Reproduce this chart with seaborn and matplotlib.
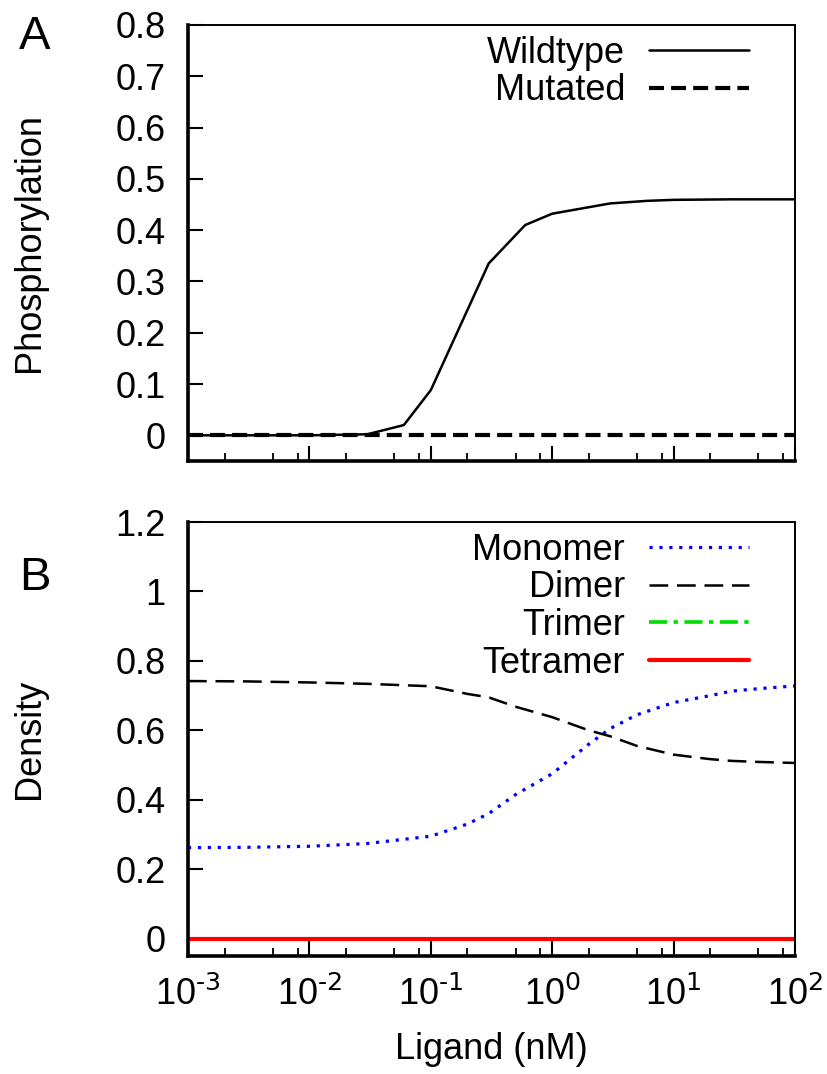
# Ligand response: phosphorylation (A) and oligomer densities (B)

import numpy as np
import matplotlib
matplotlib.use("Agg")
import matplotlib.pyplot as plt
import matplotlib.ticker as mticker
import seaborn as sns

sns.set_style("white")
plt.rcParams['font.family'] = ['Liberation Sans', 'DejaVu Sans']
plt.rcParams['mathtext.default'] = 'regular'
plt.rcParams['axes.unicode_minus'] = False
plt.rcParams['text.color'] = 'black'
plt.rcParams['axes.labelcolor'] = 'black'
plt.rcParams['xtick.color'] = 'black'
plt.rcParams['ytick.color'] = 'black'

# Panel A data
ligand_a = [0.001, 0.003, 0.006, 0.01, 0.03, 0.06, 0.1, 0.3, 0.6, 1, 3, 6, 10, 30, 60, 100]
wildtype = [0, 0, 0, 0, 0.002, 0.02, 0.088, 0.335, 0.41, 0.432, 0.452, 0.457, 0.459, 0.46, 0.46, 0.46]
mutated = [0] * len(ligand_a)

# Panel B data
ligand_b = [0.001, 0.003, 0.01, 0.03, 0.1, 0.2, 0.3, 0.5, 1, 2, 3, 5, 10, 20, 30, 50, 100]
monomer = [0.262, 0.263, 0.266, 0.274, 0.295, 0.33, 0.36, 0.415, 0.475, 0.56, 0.605, 0.645,
           0.68, 0.70, 0.713, 0.72, 0.728]
dimer = [0.742, 0.741, 0.738, 0.734, 0.727, 0.705, 0.695, 0.668, 0.638, 0.60, 0.583, 0.555,
         0.53, 0.517, 0.512, 0.509, 0.506]
trimer = [0] * len(ligand_b)
tetramer = [0] * len(ligand_b)

FS = 26


def pow10(v, pos):
    # gnuplot-like "10^-3" with a short hyphen in the exponent
    e = int(round(np.log10(v)))
    return r'10$^{\text{%d}}$' % e


fig = plt.figure(figsize=(8.27, 10.74), dpi=100)
axA = fig.add_axes([0.2273, 0.5708, 0.734, 0.406])
axB = fig.add_axes([0.2273, 0.1099, 0.734, 0.404])

for ax in (axA, axB):
    ax.set_xscale('log')

# Panel A
sns.lineplot(x=ligand_a, y=wildtype, ax=axA, color='black', lw=1.8, label='Wildtype')
sns.lineplot(x=ligand_a, y=mutated, ax=axA, color='black', lw=3.0,
             linestyle=(0, (3.6, 1.7)), label='Mutated')
axA.set_ylim(-0.05, 0.8)
axA.set_yticks(np.arange(0, 0.81, 0.1))
axA.yaxis.set_major_formatter(mticker.FuncFormatter(lambda v, p: '0' if abs(v) < 1e-9 else f'{v:.1f}'))
axA.set_ylabel('Phosphorylation', fontsize=FS)

# Panel B
sns.lineplot(x=ligand_b, y=monomer, ax=axB, color='#0000ff', lw=2.3,
             linestyle=(0, (1, 2.1)), label='Monomer')
sns.lineplot(x=ligand_b, y=dimer, ax=axB, color='black', lw=1.8,
             linestyle=(0, (7.5, 3.5)), label='Dimer')
sns.lineplot(x=ligand_b, y=trimer, ax=axB, color='#00dd00', lw=2.6,
             linestyle=(0, (5, 1.8, 1.2, 1.8)), label='Trimer')
sns.lineplot(x=ligand_b, y=tetramer, ax=axB, color='#ff0000', lw=3.0, label='Tetramer')
axB.set_ylim(-0.05, 1.2)
axB.set_yticks([0, 0.2, 0.4, 0.6, 0.8, 1.0, 1.2])
axB.yaxis.set_major_formatter(mticker.FuncFormatter(lambda v, p: f'{v:g}'))
axB.set_ylabel('Density', fontsize=FS)
axB.set_xlabel('Ligand (nM)', fontsize=FS)
axB.xaxis.set_label_coords(0.5, -0.175)

for ax in (axA, axB):
    ax.set_xlim(1e-3, 1e2)
    ax.xaxis.set_major_locator(mticker.LogLocator(base=10, numticks=10))
    ax.xaxis.set_major_formatter(mticker.FuncFormatter(pow10))
    ax.xaxis.set_minor_locator(mticker.LogLocator(base=10, subs=[2, 5, 8], numticks=10))
    ax.xaxis.set_minor_formatter(mticker.NullFormatter())
    ax.tick_params(which='major', direction='in', length=11, width=1.5,
                   labelsize=FS, bottom=True, left=True, top=False, right=False)
    ax.tick_params(axis='y', pad=16)
    ax.tick_params(axis='x', pad=15)
    ax.tick_params(which='minor', direction='in', length=5.5, width=1.3,
                   bottom=True, top=False, right=False, left=False)
    ax.yaxis.set_label_coords(-0.233, 0.5)
    for side in ('left', 'bottom'):
        ax.spines[side].set_linewidth(2.6)
    for side in ('top', 'right'):
        ax.spines[side].set_linewidth(1.4)
    for s in ax.spines.values():
        s.set_color('black')
    ax.legend(loc='upper right', bbox_to_anchor=(0.925, 0.975), frameon=False,
              fontsize=FS, markerfirst=False, handlelength=2.77,
              handletextpad=0.67, labelspacing=0.07, borderpad=0, borderaxespad=0)

axA.tick_params(axis='x', which='both', labelbottom=False)

fig.text(0.0423, 0.9655, 'A', fontsize=34, ha='center', va='center')
fig.text(0.0423, 0.4618, 'B', fontsize=34, ha='center', va='center')

plt.savefig('out.png', dpi=100)
